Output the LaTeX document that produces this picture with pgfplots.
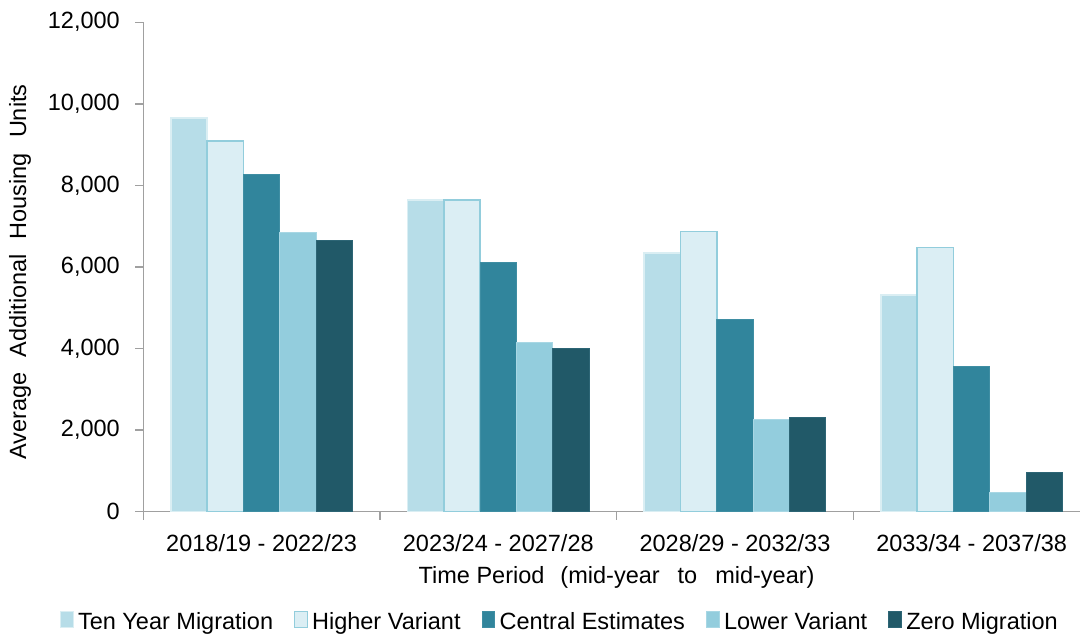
\documentclass[border=0pt]{standalone}
\usepackage{fontspec}
\setmainfont{Liberation Sans}
\usepackage{pgfplots}
\pgfplotsset{compat=1.18}
\definecolor{tenfill}{HTML}{B7DDE8}
\definecolor{tenedge}{HTML}{DAEEF3}
\definecolor{highfill}{HTML}{DBEEF4}
\definecolor{highedge}{HTML}{92CDDC}
\definecolor{central}{HTML}{31859C}
\definecolor{centraledge}{HTML}{3F8EA3}
\definecolor{lower}{HTML}{93CDDD}
\definecolor{loweredge}{HTML}{A8D7E4}
\definecolor{zero}{HTML}{215968}
\definecolor{zeroedge}{HTML}{2D6575}
\definecolor{axisgray}{HTML}{A0A0A0}
\pgfplotsset{
  leg/.style={legend image code/.code={\draw[##1, line width=1pt] (0pt,-6pt) rectangle (12.5pt,9.5pt);}}
}
\begin{document}
\begin{tikzpicture}
\begin{axis}[
  name=ax,
  scale only axis,
  width=946.7pt, height=489.4pt,
  ybar=0pt, bar width=36.3pt,
  xmin=-0.5, xmax=3.5, ymin=0, ymax=12000,
  axis lines*=left,
  axis line style={draw=axisgray, line width=1.5pt, -},
  xtick={-0.5,0.5,1.5,2.5,3.5},
  x tick label as interval,
  xticklabels={2018/19 - 2022/23, 2023/24 - 2027/28, 2028/29 - 2032/33, 2033/34 - 2037/38},
  ytick={0,2000,4000,6000,8000,10000,12000},
  scaled y ticks=false,
  tick align=outside,
  major tick length=8pt,
  tick style={draw=axisgray, line width=1.5pt},
  /pgf/number format/.cd, fixed, 1000 sep={,}, assume math mode=true, /pgfplots/.cd,
  tick label style={font=\fontsize{23.5}{28}\selectfont},
  xticklabel style={yshift=-11pt},
  yticklabel style={xshift=-12pt},
  xlabel={Time Period\hspace{16pt}(mid-year\hspace{18pt}to\hspace{18pt}mid-year)},
  ylabel={Average\hspace{15pt}Additional\hspace{15pt}Housing\hspace{15pt}Units},
  label style={font=\fontsize{23.5}{28}\selectfont},
  xlabel style={at={(axis description cs:0.5,-0.1334)}, anchor=center},
  ylabel style={at={(axis description cs:-0.1302,0.49)}, anchor=center, rotate=0},
  legend columns=-1,
  legend style={
    at={(0.439,-0.2234)}, anchor=center, draw=none, fill=none,
    font=\fontsize{23.5}{28}\selectfont,
    nodes={inner sep=0pt},
    /tikz/every odd column/.append style={column sep=4.5pt},
    /tikz/every even column/.append style={column sep=21pt},
  },
]
\addplot[leg, fill=tenfill, draw=tenedge, line width=1.5pt] coordinates {(0,9650) (1,7640) (2,6340) (3,5310)};
\addplot[leg, fill=highfill, draw=highedge, line width=1.5pt] coordinates {(0,9090) (1,7640) (2,6870) (3,6480)};
\addplot[leg, fill=central, draw=centraledge, line width=1pt] coordinates {(0,8280) (1,6120) (2,4720) (3,3560)};
\addplot[leg, fill=lower, draw=loweredge, line width=1pt] coordinates {(0,6840) (1,4140) (2,2270) (3,480)};
\addplot[leg, fill=zero, draw=zeroedge, line width=1pt] coordinates {(0,6660) (1,4010) (2,2320) (3,970)};
\legend{Ten Year Migration, Higher Variant, Central Estimates, Lower Variant, Zero Migration}
\end{axis}
\pgfresetboundingbox
\path[use as bounding box] ([xshift=-143.3pt,yshift=-122.3pt]ax.south west) rectangle ([xshift=-10pt,yshift=22.3pt]ax.north east);
\end{tikzpicture}
\end{document}
